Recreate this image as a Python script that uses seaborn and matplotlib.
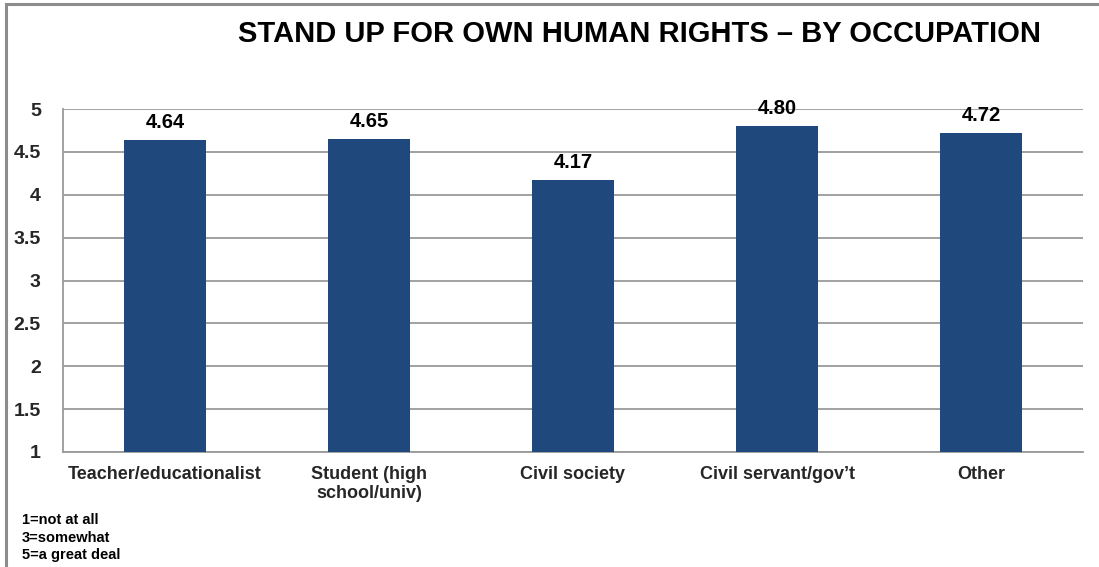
import matplotlib
matplotlib.use("Agg")
import matplotlib.pyplot as plt
from matplotlib.patches import Rectangle
import numpy as np
import pandas as pd
import seaborn as sns

occupations = ["Teacher/educationalist", "Student (high\nschool/univ)", "Civil society",
               "Civil servant/gov\u2019t", "Other"]
scores = [4.64, 4.65, 4.17, 4.80, 4.72]
y_ticks = [1, 1.5, 2, 2.5, 3, 3.5, 4, 4.5, 5]
y_tick_labels = ["1", "1.5", "2", "2.5", "3", "3.5", "4", "4.5", "5"]
scale_notes = ["1=not at all", "3=somewhat", "5=a great deal"]
title = "STAND UP FOR OWN HUMAN RIGHTS \u2013 BY OCCUPATION"

sns.set_theme(style="white")
plt.rcParams["font.family"] = ["Liberation Sans", "DejaVu Sans"]
plt.rcParams["font.weight"] = "bold"

bar_color = "#1F497D"
grid_color = "#9A9A9A"

fig = plt.figure(figsize=(10.99, 5.67), dpi=100)
ax = fig.add_axes([63 / 1099, 1 - 452 / 567, (1083 - 63) / 1099, (452 - 109) / 567])

df = pd.DataFrame({"occupation": occupations, "score": scores})
sns.barplot(data=df, x="occupation", y="score", color=bar_color, saturation=1,
            width=0.40, linewidth=0, ax=ax, zorder=3)

ax.set_ylim(1, 5)
ax.set_xlim(-0.5, len(occupations) - 0.5)
ax.set_yticks(y_ticks)
ax.set_yticklabels(y_tick_labels, fontsize=14, fontweight="bold")
ax.set_xticks(range(len(occupations)))
ax.set_xticklabels(occupations, fontsize=13, fontweight="bold", linespacing=1.15)
ax.set_xticks(np.arange(-0.5, len(occupations)), minor=True)
ax.tick_params(axis="x", which="major", length=0, pad=10)
ax.tick_params(axis="x", which="minor", length=5, width=1.2, color=grid_color, direction="out")
ax.tick_params(axis="y", length=5, width=1.2, color=grid_color, direction="out", pad=11)
ax.set_xlabel("")
ax.set_ylabel("")

ax.yaxis.grid(True, color=grid_color, linewidth=1.3, zorder=0)
ax.set_axisbelow(True)
for side in ["top", "right"]:
    ax.spines[side].set_visible(False)
for side in ["left", "bottom"]:
    ax.spines[side].set_color(grid_color)
    ax.spines[side].set_linewidth(1.3)

for bar, val in zip(ax.patches, scores):
    ax.annotate(f"{val:.2f}", (bar.get_x() + bar.get_width() / 2, val),
                xytext=(0, 12.5), textcoords="offset points",
                ha="center", va="center", fontsize=14.5, fontweight="bold", color="black")

fig.text(640 / 1099, 1 - 34 / 567, title, ha="center", va="center",
         fontsize=21, fontweight="bold", color="black")

for i, note in enumerate(scale_notes):
    fig.text(22 / 1099, 1 - (520 + i * 17.5) / 567, note, ha="left", va="center",
             fontsize=10.5, fontweight="bold", color="black")

fig.patches.append(Rectangle((6 / 1099, -0.05), 1.2, 1.05 - 4 / 567,
                             transform=fig.transFigure, fill=False,
                             edgecolor="#8C8C8C", linewidth=2.2))

fig.savefig("out.png", dpi=100)
